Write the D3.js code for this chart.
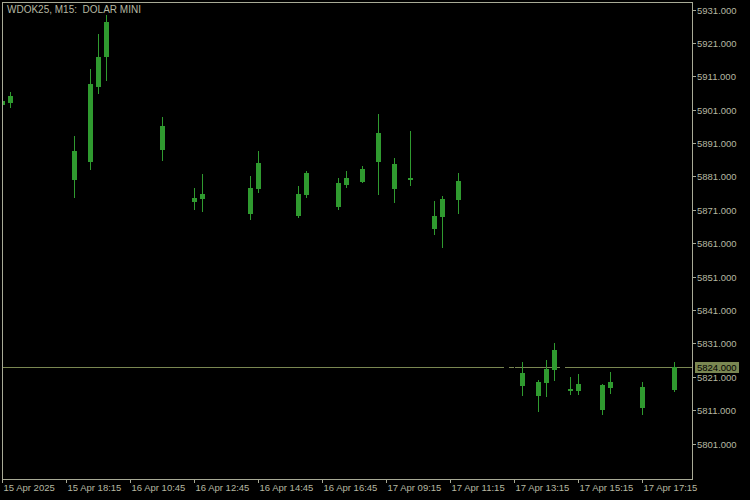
<!DOCTYPE html>
<html>
<head>
<meta charset="utf-8">
<script src="https://cdn.jsdelivr.net/npm/d3@7"></script>
<style>
  html, body { margin: 0; padding: 0; background: #000; }
  svg { display: block; }
  text { font-family: "Liberation Sans", Arial, sans-serif; }
</style>
</head>
<body>
<svg id="chart" width="750" height="500"></svg>
<script>
// ---------- DATA ----------
const chartTitle = "WDOK25, M15:  DOLAR MINI";
// bar index (15-minute bars counted from the first bar on screen)
const barIndex = [0, 1, 9, 11, 12, 13, 20, 24, 25, 31, 32, 37, 38, 42, 43, 45, 47, 49, 51, 54, 55, 57, 65, 67, 68, 69, 71, 72, 75, 76, 80, 84];
const openVals  = [5902.5, 5903.1, 5880.0, 5885.4, 5907.9, 5916.9, 5888.9, 5873.4, 5874.3, 5869.8, 5877.3, 5869.2, 5875.5, 5872.0, 5878.5, 5879.4, 5885.4, 5877.3, 5880.2, 5865.3, 5868.9, 5874.0, 5818.3, 5815.3, 5819.3, 5823.1, 5816.8, 5816.8, 5811.1, 5817.8, 5811.8, 5817.1];
const highVals  = [5903.7, 5906.4, 5893.1, 5913.1, 5923.7, 5929.4, 5898.9, 5877.6, 5881.8, 5881.2, 5888.6, 5878.2, 5882.6, 5880.6, 5882.6, 5884.1, 5899.7, 5886.6, 5894.7, 5873.7, 5875.3, 5882.0, 5825.6, 5820.1, 5826.1, 5831.1, 5820.9, 5821.9, 5818.8, 5822.4, 5819.6, 5825.6];
const lowVals   = [5902.5, 5901.9, 5875.0, 5883.2, 5906.1, 5909.9, 5885.9, 5871.3, 5870.8, 5868.3, 5876.4, 5868.8, 5875.0, 5871.3, 5878.0, 5879.4, 5875.8, 5873.5, 5878.5, 5863.8, 5860.0, 5870.0, 5815.6, 5810.9, 5815.4, 5820.1, 5815.8, 5815.8, 5809.9, 5816.3, 5809.9, 5816.9];
const closeVals = [5903.7, 5905.1, 5888.6, 5908.7, 5916.9, 5927.3, 5896.2, 5874.7, 5875.8, 5877.6, 5885.1, 5875.9, 5882.1, 5879.1, 5880.6, 5883.2, 5894.1, 5884.7, 5880.6, 5869.3, 5874.3, 5879.7, 5822.1, 5819.6, 5823.4, 5829.1, 5817.4, 5819.0, 5818.6, 5819.6, 5818.1, 5824.0];
// bearish bars are drawn black (only visible where they cut the price line)
const bearIndex = [63, 64, 70];
const bearOpen  = [5826.0, 5822.5, 5825.5];
const bearHigh  = [5827.0, 5825.0, 5826.5];
const bearLow   = [5821.0, 5819.0, 5820.5];
const bearClose = [5822.0, 5820.0, 5821.5];

const lastPrice = 5824.0;
const yTickValues = [5931, 5921, 5911, 5901, 5891, 5881, 5871, 5861, 5851, 5841, 5831, 5821, 5811, 5801];
const xTickIndex  = [0, 8, 16, 24, 32, 40, 48, 56, 64, 72, 80];
const xTickLabels = ["15 Apr 2025", "15 Apr 18:15", "16 Apr 10:45", "16 Apr 12:45", "16 Apr 14:45", "16 Apr 16:45", "17 Apr 09:15", "17 Apr 11:15", "17 Apr 13:15", "17 Apr 15:15", "17 Apr 17:15"];

// ---------- LAYOUT ----------
const FG = "#a8aa96";
const TXT = "#b6b8a2";
const CANDLE = "#2f9a2f";
const BID = "#7a8752";
const pLeft = 2, pRight = 692, pTop = 2, pBottom = 479;
const AXIS_FONT = 9.5;

const svg = d3.select("#chart");
svg.append("rect").attr("width", 750).attr("height", 500).attr("fill", "#000");

const x = d3.scaleLinear().domain([0, 86.25]).range([pLeft, pRight]);
const y = d3.scaleLinear().domain([5801, 5931]).range([443.7, 9.5]).interpolate(d3.interpolateRound);

svg.append("defs").append("clipPath").attr("id", "plot")
  .append("rect").attr("x", pLeft + 1).attr("y", pTop + 1).attr("width", pRight - pLeft - 1).attr("height", pBottom - pTop - 1);

const plot = svg.append("g").attr("clip-path", "url(#plot)").attr("shape-rendering", "crispEdges");

// price (bid) line
plot.append("line")
  .attr("x1", pLeft).attr("x2", pRight)
  .attr("y1", y(lastPrice) + 0.5).attr("y2", y(lastPrice) + 0.5)
  .attr("stroke", BID).attr("stroke-width", 1);

function drawCandles(idx, o, h, l, c, color, fill) {
  const data = idx.map((d, i) => ({ i: d, o: o[i], h: h[i], l: l[i], c: c[i] }));
  const g = plot.append("g");
  g.selectAll("line.wick").data(data).join("line")
    .attr("class", "wick")
    .attr("x1", d => Math.round(x(d.i)) + 0.5).attr("x2", d => Math.round(x(d.i)) + 0.5)
    .attr("y1", d => y(d.h)).attr("y2", d => y(d.l) + 1)
    .attr("stroke", color).attr("stroke-width", 1);
  g.selectAll("rect.body").data(data).join("rect")
    .attr("class", "body")
    .attr("x", d => Math.round(x(d.i)) - 2)
    .attr("width", 5)
    .attr("y", d => Math.min(y(d.o), y(d.c)))
    .attr("height", d => Math.max(2, Math.abs(y(d.o) - y(d.c))))
    .attr("fill", fill);
}
drawCandles(bearIndex, bearOpen, bearHigh, bearLow, bearClose, "#000", "#000");
drawCandles(barIndex, openVals, highVals, lowVals, closeVals, CANDLE, CANDLE);

// frame
svg.append("rect")
  .attr("x", pLeft + 0.5).attr("y", pTop + 0.5)
  .attr("width", pRight - pLeft).attr("height", pBottom - pTop)
  .attr("fill", "none").attr("stroke", FG).attr("stroke-width", 1)
  .attr("shape-rendering", "crispEdges");

// right axis
const yAxis = d3.axisRight(y)
  .tickValues(yTickValues)
  .tickFormat(d3.format(".3f"))
  .tickSize(4).tickSizeOuter(0).tickPadding(1);
const gy = svg.append("g").attr("transform", `translate(${pRight},0)`).call(yAxis);
gy.select(".domain").remove();
gy.selectAll(".tick line").attr("stroke", FG).attr("shape-rendering", "crispEdges");
gy.selectAll(".tick text").attr("fill", TXT).attr("font-size", AXIS_FONT).attr("font-family", "Liberation Sans, Arial, sans-serif");

// bottom axis
const xAxis = d3.axisBottom(x)
  .tickValues(xTickIndex)
  .tickFormat((d, i) => xTickLabels[i])
  .tickSize(4).tickSizeOuter(0).tickPadding(1.5);
const gx = svg.append("g").attr("transform", `translate(0,${pBottom})`).call(xAxis);
gx.select(".domain").remove();
gx.selectAll(".tick line").attr("stroke", FG).attr("shape-rendering", "crispEdges");
gx.selectAll(".tick text")
  .attr("fill", TXT).attr("font-size", AXIS_FONT).attr("font-family", "Liberation Sans, Arial, sans-serif")
  .attr("text-anchor", "start").attr("x", 1);

// last price label
const py = y(lastPrice) + 0.5;
svg.append("rect")
  .attr("x", 695).attr("y", py - 5.5).attr("width", 44).attr("height", 11)
  .attr("fill", BID).attr("shape-rendering", "crispEdges");
svg.append("text")
  .attr("x", 697).attr("y", py).attr("dy", "0.35em")
  .attr("fill", "#000").attr("font-size", AXIS_FONT)
  .text(d3.format(".3f")(lastPrice));

// title
svg.append("text")
  .attr("x", 7).attr("y", 13)
  .attr("fill", TXT).attr("font-size", 10)
  .style("white-space", "pre")
  .text(chartTitle);
</script>
</body>
</html>
